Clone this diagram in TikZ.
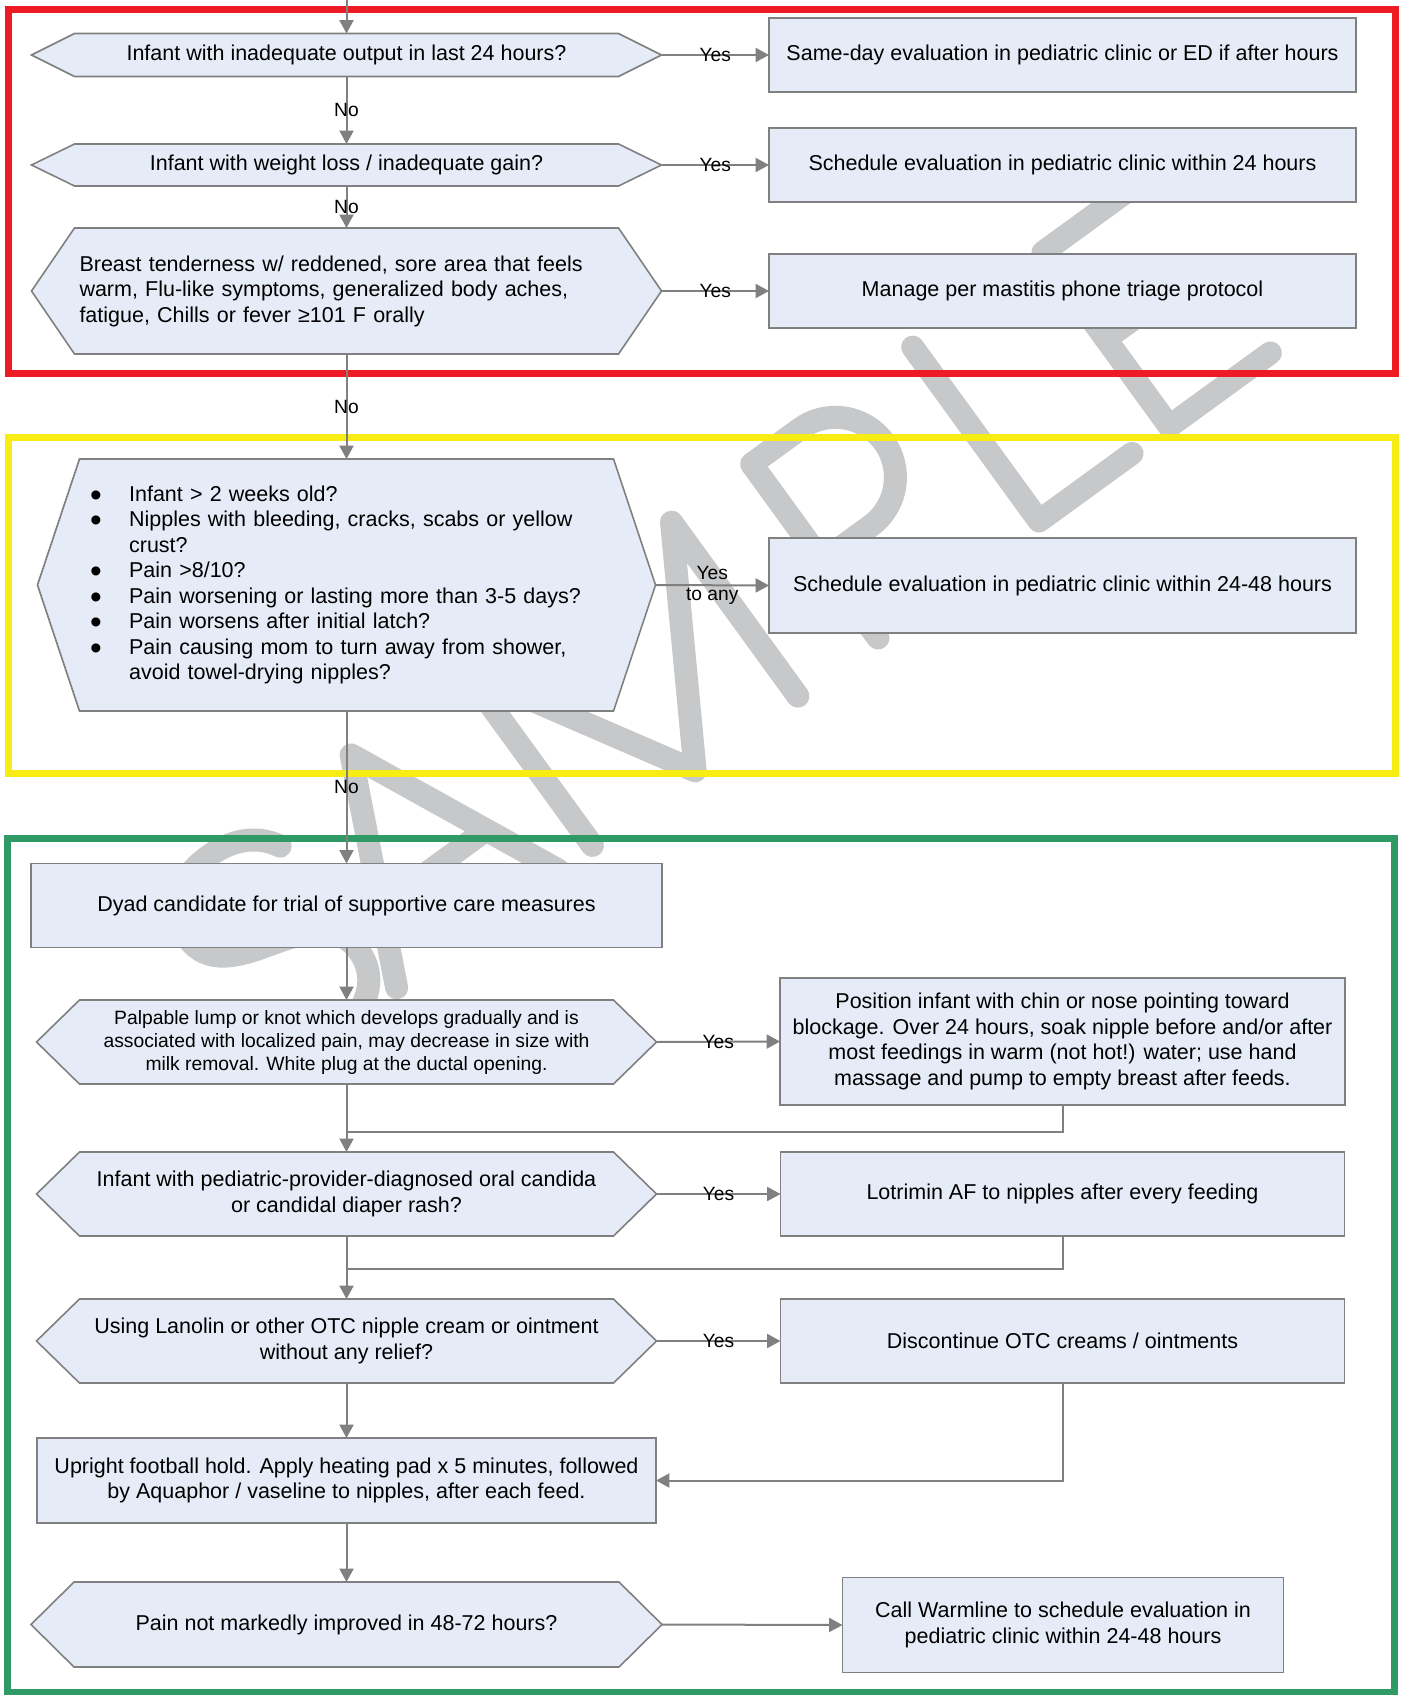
\documentclass[tikz,border=0pt]{standalone}
\usepackage{fontspec}
\usepackage{graphicx}
\setmainfont{Liberation Sans}
\usetikzlibrary{arrows.meta}
\pgfdeclarelayer{wm}
\pgfdeclarelayer{bg}
\pgfsetlayers{wm,bg,main}
\definecolor{boxfill}{RGB}{230,236,247}
\definecolor{boxline}{RGB}{128,128,128}
\definecolor{connline}{RGB}{128,128,128}
\definecolor{fred}{RGB}{237,28,36}
\definecolor{fyellow}{RGB}{247,236,19}
\definecolor{fgreen}{RGB}{47,154,101}
\definecolor{wmgray}{RGB}{199,200,202}
\newcommand\mybul{\makebox[19.5pt][l]{\smash{\raisebox{-2.4pt}{\scalebox{1.55}{•}}}}}
\newcommand\hexit[2]{\path[hexfill] (#1.west) -- ([xshift=#2]#1.north west) -- ([xshift=-#2]#1.north east) -- (#1.east) -- ([xshift=-#2]#1.south east) -- ([xshift=#2]#1.south west) -- cycle;}
\begin{document}
\begin{tikzpicture}[x=0.5pt,y=-0.5pt,
  every node/.style={inner sep=0pt, outer sep=0pt},
  base/.style={font=\fontsize{10.75pt}{12.75pt}\selectfont, align=center},
  procbox/.style={base, draw=boxline, fill=boxfill, line width=0.8pt},
  hexnode/.style={base},
  hexfill/.style={draw=boxline, fill=boxfill, line width=0.8pt, line join=miter},
  conn/.style={draw=connline, line width=1pt, -{Triangle[length=6.7pt,width=7pt]}},
  plain/.style={draw=connline, line width=1pt},
  lab/.style={font=\fontsize{9.6pt}{11.5pt}\selectfont, align=center},
  frame/.style={line width=3.5pt},
  wmark/.style={draw=wmgray, line width=11.5pt, line cap=round, line join=round}
]
\useasboundingbox (0,0) rectangle (1401,1695);

% ---------- watermark ----------
\begin{pgfonlayer}{wm}
\fill[white] (0,0) rectangle (1401,1695);
\begin{scope}[shift={(1039,521)}, rotate=36, x=0.5pt, y=0.5pt]
  % S
  \draw[wmark] (-805,183) .. controls (-818,207) and (-842,217) .. (-870,217)
     .. controls (-908,217) and (-934,196) .. (-934,163)
     .. controls (-934,128) and (-902,118) .. (-870,109)
     .. controls (-834,99) and (-803,87) .. (-803,52)
     .. controls (-803,16) and (-834,-2) .. (-870,-2)
     .. controls (-905,-2) and (-929,12) .. (-939,38);
  % A
  \draw[wmark] (-794,0) -- (-694,215) -- (-594,0);
  \draw[wmark] (-759,75) -- (-629,75);
  % M
  \draw[wmark] (-552,0) -- (-552,215) -- (-425,0) -- (-298,215) -- (-298,0);
  % P
  \draw[wmark] (-199,0) -- (-199,215) -- (-139,215) arc[start angle=90, end angle=-90, radius=60] -- (-199,95);
  % L
  \draw[wmark] (0,215) -- (0,0) -- (115,0);
  % E
  \draw[wmark] (281,215) -- (161,215) -- (161,0) -- (286,0);
  \draw[wmark] (161,108) -- (266,108);
\end{scope}
\end{pgfonlayer}

% ---------- nodes ----------
\node[hexnode, minimum width=315pt, minimum height=21.5pt] (h1) at (346.5,55) {Infant with inadequate output in last 24 hours?};
\node[procbox, minimum width=293.5pt, minimum height=37pt] (b1) at (1062.5,55) {Same-day evaluation in pediatric clinic or ED if after hours};

\node[hexnode, minimum width=315pt, minimum height=21pt] (h2) at (346.5,165) {Infant with weight loss / inadequate gain?};
\node[procbox, minimum width=293.5pt, minimum height=37pt] (b2) at (1062.5,165) {Schedule evaluation in pediatric clinic within 24 hours};

\node[hexnode, align=left, text width=267pt, inner xsep=24pt, minimum height=63pt] (h3) at (346.5,291) {Breast tenderness w/ reddened, sore area that feels\\warm, Flu-like symptoms, generalized body aches,\\fatigue, Chills or fever ≥101 F orally};
\node[procbox, minimum width=293.5pt, minimum height=37pt] (b3) at (1062.5,291) {Manage per mastitis phone triage protocol};

\node[hexnode, align=left, text width=256.4pt, inner xsep=26.3pt, minimum height=126pt] (h4) at (346.5,585) {\mybul Infant > 2 weeks old?\\
\mybul Nipples with bleeding, cracks, scabs or yellow\\
\hspace*{19.5pt}crust?\\
\mybul Pain >8/10?\\
\mybul Pain worsening or lasting more than 3-5 days?\\
\mybul Pain worsens after initial latch?\\
\mybul Pain causing mom to turn away from shower,\\
\hspace*{19.5pt}avoid towel-drying nipples?};
\node[procbox, minimum width=293.5pt, minimum height=47.5pt] (b4) at (1062.5,585.5) {Schedule evaluation in pediatric clinic within 24-48 hours};

\node[procbox, minimum width=315.5pt, minimum height=42pt] (dy) at (346.5,905.5) {Dyad candidate for trial of supportive care measures};

\node[hexnode, font=\fontsize{9.65pt}{11.5pt}\selectfont, minimum width=310pt, minimum height=42pt] (h5) at (346.5,1042) {Palpable lump or knot which develops gradually and is\\associated with localized pain, may decrease in size with\\milk removal. White plug at the ductal opening.};
\node[procbox, minimum width=282.5pt, minimum height=63.5pt] (b5) at (1062.5,1041.5) {Position infant with chin or nose pointing toward\\blockage. Over 24 hours, soak nipple before and/or after\\most feedings in warm (not hot!) water; use hand\\massage and pump to empty breast after feeds.};

\node[hexnode, minimum width=310pt, minimum height=42pt] (h6) at (346.5,1194) {Infant with pediatric-provider-diagnosed oral candida\\or candidal diaper rash?};
\node[procbox, minimum width=282pt, minimum height=42pt] (b6) at (1062.5,1194) {Lotrimin AF to nipples after every feeding};

\node[hexnode, minimum width=310pt, minimum height=42pt] (h7) at (346.5,1341) {Using Lanolin or other OTC nipple cream or ointment\\without any relief?};
\node[procbox, minimum width=282pt, minimum height=42pt] (b7) at (1062.5,1341) {Discontinue OTC creams / ointments};

\node[procbox, minimum width=309.5pt, minimum height=42.5pt] (up) at (346.5,1480.5) {Upright football hold. Apply heating pad x 5 minutes, followed\\by Aquaphor / vaseline to nipples, after each feed.};

\node[hexnode, minimum width=315.5pt, minimum height=42.5pt] (h8) at (346.5,1624.5) {Pain not markedly improved in 48-72 hours?};
\node[procbox, minimum width=220.5pt, minimum height=47.5pt] (b8) at (1063,1625) {Call Warmline to schedule evaluation in\\pediatric clinic within 24-48 hours};

% ---------- frames and hexagons ----------
\begin{pgfonlayer}{bg}
\draw[frame, draw=fred] (8,9.5) rectangle (1395,374);
\draw[frame, draw=fyellow] (8,438) rectangle (1395,773);
\draw[frame, draw=fgreen] (7.5,838.5) rectangle (1394.5,1692);
\hexit{h1}{21.5pt}
\hexit{h2}{21.5pt}
\hexit{h3}{21.5pt}
\hexit{h4}{21pt}
\hexit{h5}{21.5pt}
\hexit{h6}{21.5pt}
\hexit{h7}{21.5pt}
\hexit{h8}{21.5pt}
\end{pgfonlayer}

% ---------- connectors ----------
\coordinate (top) at (346.5,0);
\draw[conn] (top) -- (h1.north);
\draw[conn] (h1.south) -- node[lab]{No} (h2.north);
\draw[conn] (h2.south) -- node[lab]{No} (h3.north);
\draw[conn] (h3.south) -- node[lab]{No} (h4.north);
\draw[conn] (h4.south) -- node[lab]{No} (dy.north);

\draw[conn] (h1.east) -- node[lab]{Yes} (b1.west);
\draw[conn] (h2.east) -- node[lab]{Yes} (b2.west);
\draw[conn] (h3.east) -- node[lab]{Yes} (b3.west);
\draw[conn] (h4.east) -- node[lab, yshift=6pt]{Yes} node[lab, yshift=-5.5pt]{to any} (b4.west);

\draw[conn] (dy.south) -- (h5.north);
\draw[conn] (h5.east) -- node[lab]{Yes} (b5.west);
\coordinate (j1) at (346.5,1132);
\draw[plain] (b5.south) |- (j1);
\draw[conn] (h5.south) -- (h6.north);
\draw[conn] (h6.east) -- node[lab]{Yes} (b6.west);
\coordinate (j2) at (346.5,1269);
\draw[plain] (b6.south) |- (j2);
\draw[conn] (h6.south) -- (h7.north);
\draw[conn] (h7.east) -- node[lab]{Yes} (b7.west);
\draw[conn] (b7.south) |- (up.east);
\draw[conn] (h7.south) -- (up.north);
\draw[conn] (up.south) -- (h8.north);
\draw[conn] (h8.east) -- (b8.west);
\end{tikzpicture}
\end{document}
